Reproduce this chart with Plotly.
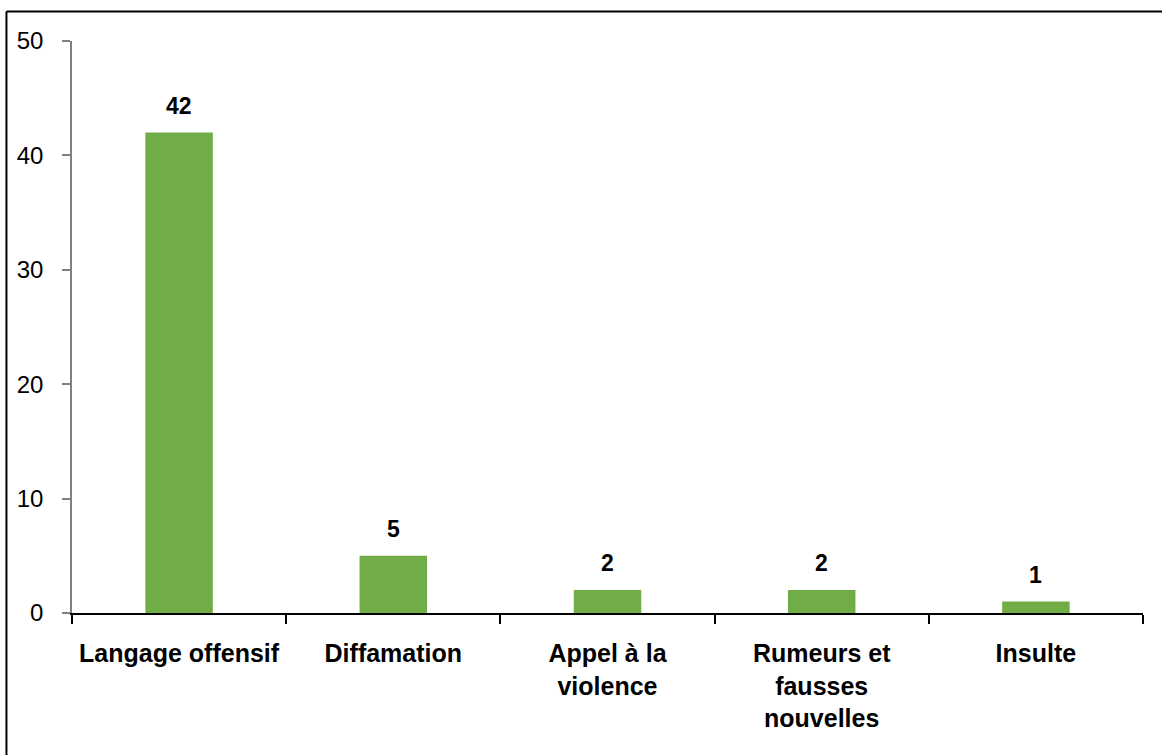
import plotly.graph_objects as go

categories = ["Langage offensif", "Diffamation", "Appel à la<br>violence",
              "Rumeurs et<br>fausses<br>nouvelles", "Insulte"]
values = [42, 5, 2, 2, 1]
y_ticks = [0, 10, 20, 30, 40, 50]

FONT = "Liberation Sans Narrow, Arial Narrow, Liberation Sans, Arial, sans-serif"
GREEN = "#70AD47"

fig = go.Figure(
    go.Bar(
        x=categories,
        y=values,
        marker=dict(color=GREEN, line=dict(width=0)),
        hoverinfo="skip",
    )
)

# value labels above each bar
for cat, val in zip(categories, values):
    fig.add_annotation(
        x=cat, y=val, text=f"<b>{val}</b>", showarrow=False,
        yanchor="bottom", yshift=12,
        font=dict(family=FONT, size=23, color="black"),
    )

# frame drawn around the chart (top and left edges visible)
fig.add_shape(type="line", xref="paper", yref="paper",
              x0=-0.0612, x1=1.05, y0=1.0516, y1=1.0516,
              line=dict(color="black", width=2))
fig.add_shape(type="line", xref="paper", yref="paper",
              x0=-0.0612, x1=-0.0612, y0=1.0516, y1=-0.3,
              line=dict(color="black", width=2))

fig.update_layout(
    width=1162, height=755,
    margin=dict(l=72, r=19, t=41, b=142, autoexpand=False),
    paper_bgcolor="white", plot_bgcolor="white",
    bargap=0.685,
    showlegend=False,
    font=dict(family=FONT, color="black"),
)
fig.update_xaxes(
    type="category",
    showline=True, linecolor="black", linewidth=2,
    ticks="outside", tickson="boundaries", ticklen=9, tickcolor="black", tickwidth=2,
    tickfont=dict(family=FONT, size=25, color="black"),
    tickangle=0, automargin=False,
    ticklabelstandoff=17,
    showgrid=False, zeroline=False,
    tickprefix="<b>", ticksuffix="</b>",
)
fig.update_yaxes(
    range=[0, 50], tickvals=y_ticks,
    showline=True, linecolor="#7f7f7f", linewidth=1.5,
    ticks="outside", ticklen=8, tickcolor="#7f7f7f", tickwidth=1.5,
    tickfont=dict(family=FONT, size=24, color="black"),
    automargin=False,
    ticklabelstandoff=14,
    showgrid=False, zeroline=False,
)

fig.write_html("out.html")
